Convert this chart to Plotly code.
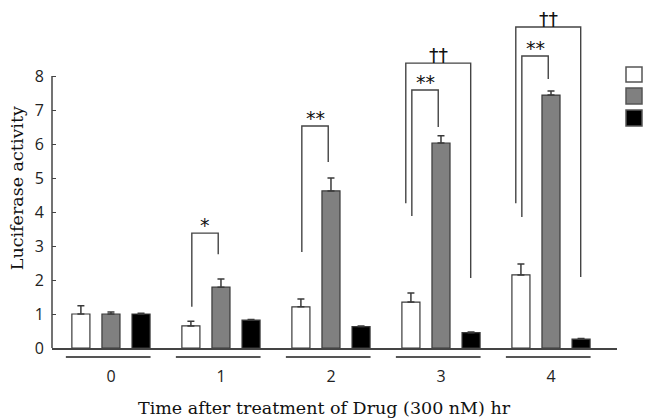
import plotly.graph_objects as go

# ---- data ----
time_labels = ["0", "1", "2", "3", "4"]
white_vals = [1.00, 0.65, 1.21, 1.35, 2.15]
white_err = [0.24, 0.14, 0.23, 0.27, 0.32]
gray_vals = [1.00, 1.79, 4.62, 6.03, 7.44]
gray_err = [0.06, 0.24, 0.38, 0.21, 0.12]
black_vals = [1.00, 0.82, 0.63, 0.45, 0.26]
black_err = [0.02, 0.02, 0.02, 0.02, 0.02]

# brackets: group index, type (inner: white-gray, outer: white-black), top, left leg bottom, right leg bottom, label
br_group = [1, 2, 3, 3, 4, 4]
br_kind = ["inner", "inner", "inner", "outer", "inner", "outer"]
br_top = [3.38, 6.53, 7.59, 8.38, 8.59, 9.44]
br_left = [1.21, 2.82, 3.88, 4.26, 3.85, 4.26]
br_right = [2.76, 5.47, 6.50, 2.06, 7.91, 2.09]
br_label = ["*", "**", "**", "††", "**", "††"]

colors = ["#ffffff", "#808080", "#000000"]
outline = "#3a3a3a"
axis_col = "#444444"

x = list(range(len(time_labels)))

fig = go.Figure()
for vals, errs, col in [(white_vals, white_err, colors[0]),
                        (gray_vals, gray_err, colors[1]),
                        (black_vals, black_err, colors[2])]:
    fig.add_trace(go.Bar(
        x=x, y=vals,
        marker=dict(color=col, line=dict(color=outline, width=1.2)),
        error_y=dict(type="data", array=errs, arrayminus=[0] * len(errs),
                     symmetric=False, color=outline, thickness=1.5, width=3.5),
        showlegend=False,
    ))

shapes = []
# y axis line from 0 to 8
shapes.append(dict(type="line", xref="paper", yref="y", x0=0, x1=0, y0=0, y1=8,
                   line=dict(color=axis_col, width=1.5)))
# group underlines
for i in x:
    shapes.append(dict(type="line", xref="x", yref="paper", x0=i - 0.41, x1=i + 0.36,
                       y0=-0.026, y1=-0.026, line=dict(color="#555555", width=1.8)))

# bracket leg offsets (in category units)
leg_off = {"inner": (-0.265, -0.025), "outer": (-0.32, 0.27)}
annotations = []
for g, k, top, lb, rb, lab in zip(br_group, br_kind, br_top, br_left, br_right, br_label):
    xl, xr = g + leg_off[k][0], g + leg_off[k][1]
    shapes.append(dict(type="path", xref="x", yref="y",
                       path=f"M {xl},{lb} L {xl},{top} L {xr},{top} L {xr},{rb}",
                       line=dict(color=axis_col, width=1.4)))
    annotations.append(dict(x=(xl + xr) / 2, y=top, xref="x", yref="y", text=lab,
                            showarrow=False, yanchor="bottom", yshift=-5,
                            font=dict(family="DejaVu Sans", size=19, color="#111111")))

# legend squares (no labels)
leg_y = [(67, 82), (88, 104), (110, 126)]
for (py0, py1), col in zip(leg_y, colors):
    shapes.append(dict(type="rect", xref="paper", yref="paper",
                       x0=(626 - 52) / 565, x1=(642 - 52) / 565,
                       y0=(348 - py1) / 347, y1=(348 - py0) / 347,
                       fillcolor=col, line=dict(color="#555555", width=1.5)))

# y axis title
annotations.append(dict(text="Luciferase activity", xref="paper", yref="y",
                        x=0, y=4.7, xshift=-35, xanchor="center", yanchor="middle",
                        textangle=-90, showarrow=False,
                        font=dict(family="DejaVu Serif", size=17.5, color="#111111")))
# x axis title
annotations.append(dict(text="Time after treatment of Drug (300 nM) hr", xref="paper", yref="paper",
                        x=(324 - 52) / 565, y=-60 / 347, xanchor="center", yanchor="middle",
                        showarrow=False,
                        font=dict(family="DejaVu Serif", size=17.5, color="#111111")))

fig.update_layout(
    width=648, height=419,
    margin=dict(l=52, r=31, t=1, b=71),
    paper_bgcolor="white", plot_bgcolor="white",
    barmode="group", bargap=0.18, bargroupgap=0.4,
    shapes=shapes, annotations=annotations,
    showlegend=False,
    xaxis=dict(range=[-0.536, 4.6], tickvals=x, ticktext=time_labels,
               showline=True, linecolor=axis_col, linewidth=1.5,
               showgrid=False, zeroline=False, ticks="",
               ticklabelstandoff=13,
               tickfont=dict(family="Open Sans", size=16, color="#222222")),
    yaxis=dict(range=[0, 347 / 34], tickvals=list(range(9)),
               showline=False, showgrid=False, zeroline=False,
               ticks="inside", ticklen=4, tickcolor=axis_col, tickwidth=1.2,
               ticklabelstandoff=7,
               tickfont=dict(family="Open Sans", size=16, color="#222222")),
)

fig.write_html("out.html")
